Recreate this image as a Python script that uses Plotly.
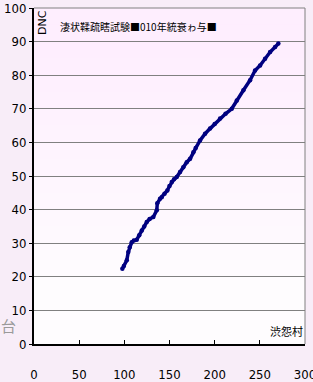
import plotly.graph_objects as go

# data
x_vals = [97.8, 99.5, 102.7, 104.4, 106.0, 108.2, 110.5, 113.7, 116.5, 119.3, 122.0, 124.8,
          128.0, 132.1, 135.9, 136.5, 139.5, 141.4, 144.5, 147.6, 150.0, 152.5, 155.0, 158.0,
          161.7, 165.3, 169.1, 172.8, 176.4, 179.0, 183.8, 189.4, 194.9, 200.0, 206.0,
          212.0, 218.9, 224.5, 231.8, 239.2, 244.7, 250.3, 255.8, 261.4, 266.9, 270.5]
y_vals = [22.4, 23.2, 24.9, 27.4, 28.8, 30.3, 30.8, 31.0, 32.4, 33.8, 35.0, 36.3,
          37.2, 37.8, 39.8, 41.9, 43.2, 43.7, 44.7, 45.7, 47.0, 48.2, 49.0, 49.7,
          51.2, 52.6, 54.1, 55.1, 57.1, 58.3, 60.6, 62.6, 64.1, 65.5, 67.1,
          68.5, 70.0, 72.5, 75.5, 78.5, 81.4, 82.9, 84.9, 86.9, 88.4, 89.4]

y_ticks = [0, 10, 20, 30, 40, 50, 60, 70, 80, 90, 100]
x_ticks = [0, 50, 100, 150, 200, 250, 300]

chart_title = "淒状鞣疏瞎試験■010年統衰ゎ与■"
y_label = "DNC"
corner_label = "渋怨村"
side_char = "台"

tick_font = dict(family="Liberation Sans Narrow, DejaVu Sans Condensed, sans-serif",
                 size=13, color="black")

fig = go.Figure()
fig.add_trace(go.Scatter(
    x=x_vals, y=y_vals, mode="lines+markers",
    line=dict(color="#000080", width=3.5),
    marker=dict(color="#000080", size=4.5),
    showlegend=False, hoverinfo="skip"))

# soft pink gradient in plot area (approximated by stacked translucent bands)
n_bands = 16
for i in range(n_bands):
    y0 = 0.2 + i * (0.8 / n_bands)
    fig.add_shape(type="rect", xref="x domain", yref="y domain", x0=0, x1=1, y0=y0, y1=1,
                  fillcolor="#f9e9f9", line=dict(width=0), opacity=0.06, layer="below")

# grey frame top and right
fig.add_shape(type="line", xref="x domain", yref="y domain", x0=0, x1=1, y0=1, y1=1,
              line=dict(color="#808080", width=1))
fig.add_shape(type="line", xref="x domain", yref="y domain", x0=1, x1=1, y0=0, y1=1,
              line=dict(color="#808080", width=1))

fig.update_xaxes(range=[0, 300], tickvals=x_ticks, ticktext=[str(v) for v in x_ticks],
                 showgrid=False, zeroline=False, showline=True, linecolor="black",
                 linewidth=2, ticks="inside", ticklen=4, tickcolor="black",
                 tickfont=tick_font, ticklabelstandoff=17, automargin=False,
                 ticklabeloverflow="allow")
fig.update_yaxes(range=[0, 100], tickvals=y_ticks, ticktext=[str(v) for v in y_ticks],
                 showgrid=True, gridcolor="#808080", gridwidth=1, zeroline=False,
                 showline=True, linecolor="black", linewidth=2, ticks="outside",
                 ticklen=3, tickcolor="black", tickfont=tick_font, automargin=False,
                 ticklabeloverflow="allow")

cjk = "Noto Sans CJK JP, sans-serif"
fig.add_annotation(xref="paper", yref="paper", x=0.0, y=1.0, text=y_label,
                   showarrow=False, textangle=-90, xanchor="left", yanchor="top",
                   font=dict(family="Liberation Sans Narrow, DejaVu Sans, sans-serif",
                             size=11, color="black"))
fig.add_annotation(xref="paper", yref="paper", x=0.088, y=0.945, text=chart_title,
                   showarrow=False, xanchor="left", yanchor="middle",
                   font=dict(family=cjk, size=10, color="black"))
fig.add_annotation(xref="paper", yref="paper", x=1.0, y=0.04, text=corner_label,
                   showarrow=False, xanchor="right", yanchor="middle",
                   font=dict(family=cjk, size=11, color="black"))
fig.add_annotation(xref="paper", yref="paper", x=-0.13, y=0.055, text=side_char,
                   showarrow=False, xanchor="left", yanchor="middle",
                   font=dict(family=cjk, size=15, color="#9a9a9a"))

fig.update_layout(width=313, height=382, margin=dict(l=34, r=8, t=8, b=38),
                  paper_bgcolor="#f8edf8", plot_bgcolor="#fefcfe")

fig.write_html(
    "out.html",
    config={"displayModeBar": False},
    post_script="document.body.style.margin='0';document.body.style.background='#f8edf8';",
)
